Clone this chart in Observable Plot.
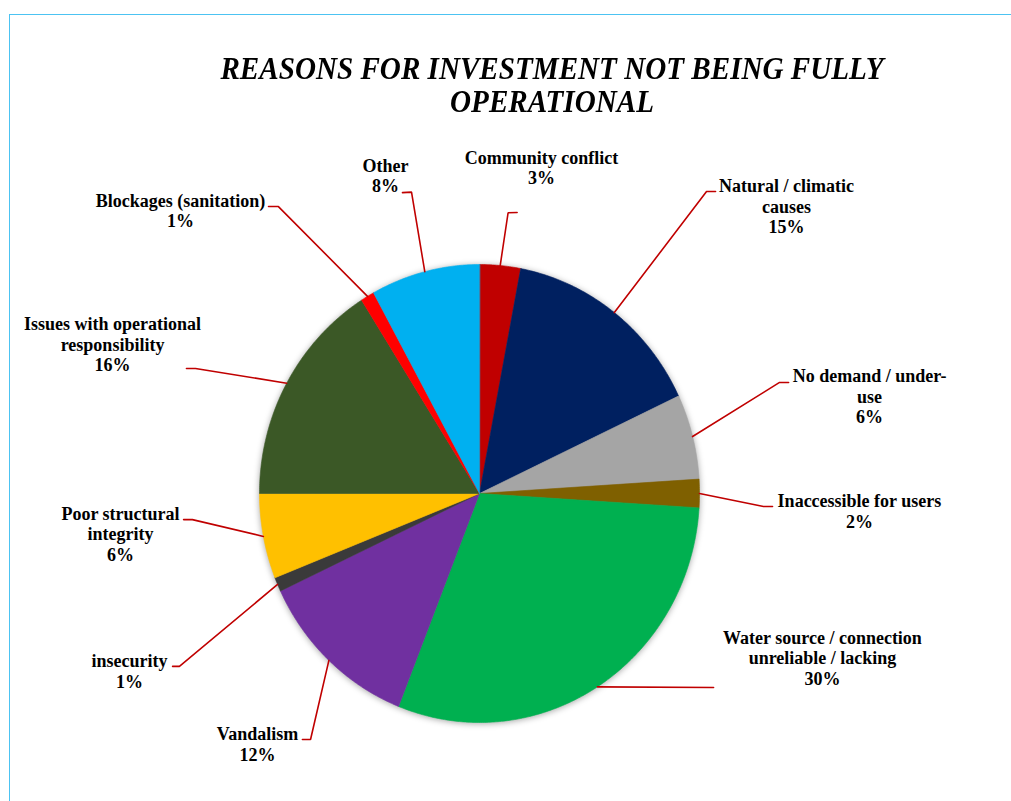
<!DOCTYPE html>
<html>
<head>
<meta charset="utf-8">
<script src="https://cdn.jsdelivr.net/npm/d3@7"></script>
<script src="https://cdn.jsdelivr.net/npm/@observablehq/plot@0.6"></script>
<style>
  body { margin: 0; background: #fff; }
  #chart { position: relative; width: 1011px; height: 801px; overflow: hidden; }
  #frame { position: absolute; left: 9px; top: 14px; right: -4px; bottom: -4px;
           border-top: 1px solid #4cc3f2; border-left: 1px solid #4cc3f2; }
  #title { position: absolute; left: 92px; width: 920px; top: 52px; text-align: center;
           font: italic bold 32px/33px "Liberation Serif", "Times New Roman", serif;
           color: #000; transform: scaleX(0.91); }
  #plot { position: absolute; left: 0; top: 0; }
</style>
</head>
<body>
<div id="chart">
  <div id="frame"></div>
  <div id="plot"></div>
  <div id="title">REASONS FOR INVESTMENT NOT BEING FULLY<br>OPERATIONAL</div>
</div>
<script>
// Reasons, clockwise from 12 o'clock, with their share of cases (%)
const categories = [
  "Community conflict",
  "Natural / climatic causes",
  "No demand / under-use",
  "Inaccessible for users",
  "Water source / connection unreliable / lacking",
  "Vandalism",
  "insecurity",
  "Poor structural integrity",
  "Issues with operational responsibility",
  "Blockages (sanitation)",
  "Other"
];
const shares = [3, 15, 6, 2, 30, 12, 1, 6, 16, 1, 8];

// How each category name wraps in its label
const wrappedNames = [
  "Community conflict",
  "Natural / climatic\ncauses",
  "No demand / under-\nuse",
  "Inaccessible for users",
  "Water source / connection\nunreliable / lacking",
  "Vandalism",
  "insecurity",
  "Poor structural\nintegrity",
  "Issues with operational\nresponsibility",
  "Blockages (sanitation)",
  "Other"
];

// Slice colours
const palette = ["#c00000", "#002060", "#a5a5a5", "#7f6000", "#00b050", "#7030a0",
                 "#3a3a3a", "#ffc000", "#3b5826", "#ff0000", "#00b0f0"];

// Label placement in pie units (radius = 1): label centre, then the leader's bend and end
const labelAt = [
  [0.282, 1.424], [1.395, 1.254], [1.773, 0.424], [1.727, -0.076], [1.559, -0.717],
  [-1.009, -1.093], [-1.591, -0.775], [-1.632, -0.176], [-1.668, 0.653], [-1.359, 1.236], [-0.427, 1.389]
];
const leaderVia = [
  [[0.130, 1.226], [0.171, 1.227]],
  [[1.032, 1.319], [1.073, 1.319]],
  [[1.364, 0.485], [1.405, 0.485]],
  [[1.291, -0.057], [1.332, -0.057]],
  [[1.064, -0.847], [1.064, -0.847]],
  [[-0.768, -1.074], [-0.805, -1.074]],
  [[-1.364, -0.755], [-1.395, -0.755]],
  [[-1.305, -0.114], [-1.345, -0.114]],
  [[-1.291, 0.546], [-1.332, 0.546]],
  [[-0.914, 1.253], [-0.959, 1.253]],
  [[-0.309, 1.316], [-0.350, 1.314]]
];

const data = categories.map((name, i) => ({name, value: shares[i], i}));
const arcs = d3.pie().sort(null).value(d => d.value).startAngle(0).endAngle(2 * Math.PI)(data);

// Polygon outline for every slice: centre, then points along its arc
const slicePoints = arcs.flatMap(a => {
  const pts = [{name: a.data.name, x: 0, y: 0}];
  const n = Math.max(2, Math.ceil((a.endAngle - a.startAngle) / (Math.PI / 360)));
  for (let k = 0; k <= n; ++k) {
    const t = a.startAngle + (a.endAngle - a.startAngle) * k / n;
    pts.push({name: a.data.name, x: Math.sin(t), y: Math.cos(t)});
  }
  return pts;
});

// Leader lines from the middle of each slice's rim to its label
const leaderPoints = arcs.flatMap((a, i) => {
  const m = (a.startAngle + a.endAngle) / 2;
  return [[Math.sin(m), Math.cos(m)], ...leaderVia[i]].map(([x, y]) => ({name: a.data.name, x, y}));
});

const labels = arcs.map((a, i) => ({
  x: labelAt[i][0],
  y: labelAt[i][1],
  text: `${wrappedNames[i]}\n${a.data.value}%`
}));

const chart = Plot.plot({
  width: 1011,
  height: 801,
  margin: 0,
  x: {domain: [-1, 1], range: [259, 699], axis: null},
  y: {domain: [-1, 1], range: [722, 264], axis: null},
  color: {domain: categories, range: palette},
  marks: [
    Plot.line(slicePoints, {
      x: "x", y: "y", z: "name", fill: "name", stroke: "name", strokeWidth: 0.6,
      curve: "linear-closed",
      imageFilter: "drop-shadow(0px 1px 3px rgba(0,0,0,0.35))"
    }),
    Plot.line(leaderPoints, {
      x: "x", y: "y", z: "name", stroke: "#c00000", strokeWidth: 1.6, strokeLinejoin: "miter"
    }),
    Plot.text(labels, {
      x: "x", y: "y", text: "text",
      fontSize: 18, fontWeight: "bold", fontFamily: "'Liberation Serif', 'Times New Roman', serif",
      lineHeight: 20.5 / 18, lineAnchor: "middle", textAnchor: "middle", fill: "#000"
    })
  ]
});
document.getElementById("plot").append(chart);
</script>
</body>
</html>
